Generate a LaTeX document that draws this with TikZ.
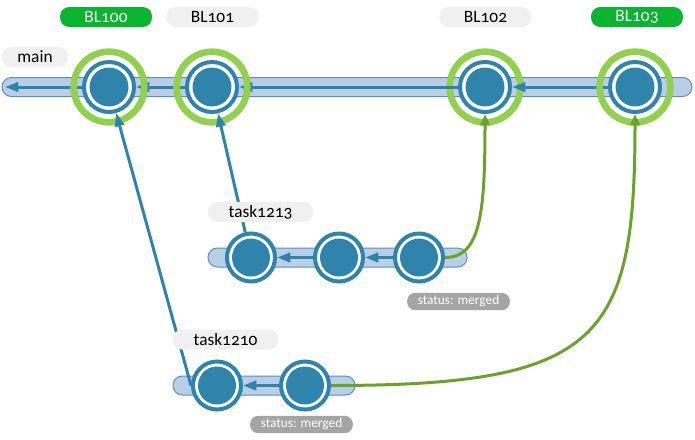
\documentclass[tikz,border=0pt]{standalone}
\usepackage{fontspec}
\setmainfont{Carlito}[Numbers=OldStyle]
\usepackage{tikz}
\usetikzlibrary{arrows.meta}

\definecolor{commitblue}{RGB}{47,132,171}
\definecolor{lanefill}{RGB}{186,206,231}
\definecolor{laneline}{RGB}{88,143,194}
\definecolor{releasegreen}{RGB}{146,208,80}
\definecolor{mergegreen}{RGB}{106,162,42}
\definecolor{pillgreen}{RGB}{8,180,48}
\definecolor{pillgray}{RGB}{240,240,240}
\definecolor{statusgray}{RGB}{165,165,165}

\begin{document}
\begin{tikzpicture}[x=0.75pt,y=0.75pt,yscale=-1,xscale=1,
  lane/.style={draw=laneline,fill=lanefill,line width=0.75pt,rounded corners=7pt},
  commit/.style={circle,draw=commitblue,fill=white,line width=3pt,inner sep=0pt,minimum size=36pt,
    path picture={\fill[commitblue] (path picture bounding box.center) circle (14.25pt);}},
  maincommit/.style={commit,minimum size=37.5pt,
    path picture={\fill[commitblue] (path picture bounding box.center) circle (14.6pt);}},
  release/.style={draw=releasegreen,line width=5pt},
  flow/.style={draw=commitblue,line width=2.25pt,-{Triangle[length=10pt,width=7pt]}},
  merge/.style={draw=mergegreen,line width=2.25pt,-{Triangle[length=8.5pt,width=7pt]}},
  tag/.style={rounded corners=7pt,inner sep=0pt,minimum height=15pt,font=\fontsize{13}{15}\selectfont},
  branchtag/.style={tag,fill=pillgray,text=black},
  buildtag/.style={tag,fill=pillgreen,text=white,minimum width=69pt},
  graybuild/.style={tag,fill=pillgray,text=black,minimum width=69pt},
  statustag/.style={rounded corners=6pt,inner sep=0pt,minimum height=13pt,minimum width=77pt,
    fill=statusgray,text=white,font=\fontsize{10}{12}\selectfont}]
\useasboundingbox (0,0) rectangle (695,439);

% lanes
\draw[lane] (2,77.5) rectangle (692,96.5);
\draw[lane] (208,248) rectangle (467,267);
\draw[lane] (173,376) rectangle (355,395);

% commits on main
\node[maincommit] (bl100) at (109,87) {};
\node[maincommit] (bl101) at (212,87) {};
\node[maincommit] (bl102) at (485,87) {};
\node[maincommit] (bl103) at (635,87) {};
\coordinate (mainend) at (5,87);

% commits on task1213
\node[commit] (t13a) at (251,257.5) {};
\node[commit] (t13b) at (339,257.5) {};
\node[commit] (t13c) at (419,257.5) {};

% commits on task1210
\node[commit] (t10a) at (217,385.5) {};
\node[commit] (t10b) at (305,385.5) {};

% history on main
\draw[release] (bl102.center) circle (35.3);
\draw[flow] (bl100) -- (mainend);
\draw[flow] (bl101) -- (bl100);
\draw[flow] (bl102) -- (bl101);
\draw[flow] (bl103) -- (bl102);
\foreach \n in {bl100,bl101,bl103}
  \draw[release] (\n.center) circle (35.3);

% history on the tasks
\draw[flow] (t13c) -- (t13b);
\draw[flow] (t13b) -- (t13a);
\draw[flow] (t10b) -- (t10a);

% branch points
\draw[flow] (t13a) -- (bl101);
\draw[flow] (t10a.west) -- (bl100);

% merges
\draw[merge] (t13c.east) .. controls (480,257.5) and (485,215) .. (bl102.south);
\draw[merge] (t10b.east) .. controls (600,385.5) and (635,340) .. (bl103.south);

% Text Node
\node[buildtag] (lbl100) at (106,17) {BL100};
\node[graybuild] (lbl101) at (212.5,17) {BL101};
\node[graybuild] (lbl102) at (485.5,17) {BL102};
\node[buildtag] (lbl103) at (637,17) {BL103};
% Text Node
\node[branchtag,minimum width=49.5pt] (lmain) at (35,57) {main};
\node[branchtag,minimum width=79pt] (l1213) at (260.5,212) {task1213};
\node[branchtag,minimum width=79pt] (l1210) at (225.5,339.5) {task1210};
% Text Node
\node[statustag] (s1213) at (458.5,301.5) {status: merged};
\node[statustag] (s1210) at (301.5,424.5) {status: merged};
\end{tikzpicture}
\end{document}
